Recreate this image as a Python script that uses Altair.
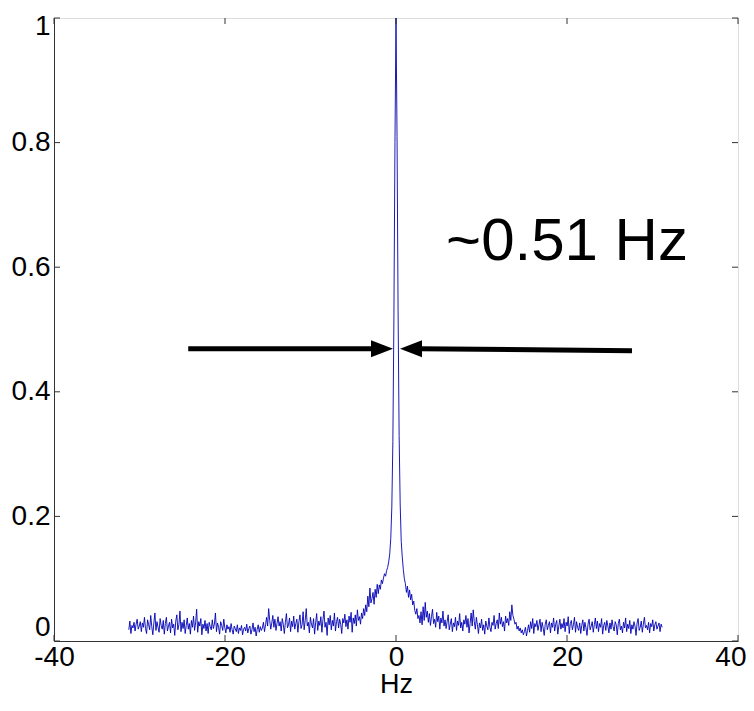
import altair as alt
import pandas as pd

# Spectrum magnitude (normalised), 512 bins; bin 256 is 0 Hz
spectrum = [
    0.018, 0.032, 0.012, 0.025, 0.021, 0.030, 0.016, 0.027, 0.035, 0.019, 0.024, 0.031, 0.015, 0.029, 0.022, 0.038,
    0.020, 0.012, 0.034, 0.026, 0.018, 0.041, 0.023, 0.010, 0.029, 0.045, 0.017, 0.031, 0.022, 0.014, 0.036, 0.025,
    0.019, 0.033, 0.011, 0.028, 0.038, 0.016, 0.024, 0.030, 0.013, 0.035, 0.021, 0.027, 0.009, 0.032, 0.042, 0.018,
    0.026, 0.048, 0.015, 0.030, 0.020, 0.034, 0.012, 0.025, 0.037, 0.019, 0.028, 0.011, 0.033, 0.022, 0.040, 0.017,
    0.029, 0.051, 0.014, 0.031, 0.024, 0.036, 0.010, 0.027, 0.020, 0.033, 0.016, 0.028, 0.012, 0.030, 0.023, 0.018,
    0.034, 0.020, 0.027, 0.045, 0.015, 0.029, 0.022, 0.011, 0.031, 0.025, 0.017, 0.035, 0.021, 0.013, 0.026, 0.019,
    0.023, 0.014, 0.028, 0.018, 0.011, 0.024, 0.020, 0.015, 0.026, 0.012, 0.021, 0.017, 0.025, 0.010, 0.019, 0.022,
    0.016, 0.027, 0.013, 0.020, 0.024, 0.011, 0.018, 0.029, 0.015, 0.022, 0.008, 0.019, 0.026, 0.014, 0.023, 0.017,
    0.021, 0.030, 0.015, 0.026, 0.038, 0.024, 0.052, 0.033, 0.019, 0.029, 0.041, 0.022, 0.035, 0.017, 0.028, 0.039,
    0.024, 0.031, 0.016, 0.036, 0.027, 0.012, 0.030, 0.044, 0.021, 0.026, 0.037, 0.015, 0.032, 0.023, 0.040, 0.019,
    0.028, 0.035, 0.014, 0.031, 0.042, 0.020, 0.026, 0.047, 0.018, 0.033, 0.052, 0.024, 0.030, 0.013, 0.038, 0.027,
    0.021, 0.036, 0.011, 0.029, 0.044, 0.017, 0.032, 0.025, 0.039, 0.014, 0.034, 0.048, 0.022, 0.030, 0.009, 0.037,
    0.026, 0.041, 0.018, 0.033, 0.024, 0.045, 0.016, 0.031, 0.038, 0.021, 0.035, 0.027, 0.012, 0.036, 0.029, 0.043,
    0.023, 0.034, 0.019, 0.040, 0.030, 0.046, 0.014, 0.037, 0.028, 0.042, 0.024, 0.050, 0.033, 0.039, 0.027, 0.045,
    0.036, 0.052, 0.041, 0.058, 0.047, 0.072, 0.055, 0.085, 0.061, 0.068, 0.078, 0.059, 0.083, 0.070, 0.091, 0.076,
    0.090, 0.083, 0.098, 0.092, 0.101, 0.108, 0.104, 0.113, 0.118, 0.127, 0.140, 0.165, 0.215, 0.320, 0.520, 0.800,
    1.000, 0.810, 0.530, 0.330, 0.220, 0.160, 0.135, 0.115, 0.100, 0.092, 0.078, 0.088, 0.070, 0.082, 0.066, 0.075,
    0.058, 0.064, 0.049, 0.043, 0.052, 0.036, 0.041, 0.029, 0.047, 0.026, 0.055, 0.033, 0.062, 0.038, 0.048, 0.030,
    0.044, 0.025, 0.039, 0.051, 0.028, 0.035, 0.022, 0.046, 0.031, 0.040, 0.019, 0.037, 0.029, 0.048, 0.024, 0.034,
    0.020, 0.031, 0.042, 0.018, 0.027, 0.036, 0.015, 0.029, 0.023, 0.038, 0.017, 0.032, 0.025, 0.044, 0.021, 0.030,
    0.016, 0.034, 0.027, 0.041, 0.022, 0.036, 0.013, 0.028, 0.045, 0.024, 0.050, 0.031, 0.019, 0.038, 0.026, 0.012,
    0.029, 0.021, 0.035, 0.017, 0.026, 0.011, 0.032, 0.024, 0.018, 0.037, 0.022, 0.015, 0.030, 0.025, 0.041, 0.019,
    0.028, 0.034, 0.020, 0.045, 0.027, 0.038, 0.023, 0.031, 0.016, 0.040, 0.029, 0.036, 0.025, 0.047, 0.033, 0.058,
    0.041, 0.035, 0.027, 0.030, 0.019, 0.024, 0.016, 0.021, 0.013, 0.018, 0.010, 0.015, 0.022, 0.008, 0.017, 0.026,
    0.014, 0.031, 0.020, 0.036, 0.012, 0.028, 0.023, 0.033, 0.017, 0.026, 0.035, 0.015, 0.030, 0.021, 0.009, 0.027,
    0.034, 0.018, 0.025, 0.031, 0.013, 0.029, 0.022, 0.037, 0.016, 0.027, 0.033, 0.011, 0.024, 0.035, 0.019, 0.028,
    0.021, 0.036, 0.015, 0.030, 0.024, 0.039, 0.012, 0.028, 0.033, 0.018, 0.026, 0.038, 0.014, 0.031, 0.022, 0.017,
    0.029, 0.012, 0.025, 0.034, 0.016, 0.030, 0.021, 0.009, 0.027, 0.035, 0.018, 0.024, 0.031, 0.014, 0.026, 0.037,
    0.020, 0.032, 0.015, 0.028, 0.022, 0.036, 0.011, 0.025, 0.030, 0.017, 0.033, 0.024, 0.013, 0.029, 0.019, 0.034,
    0.023, 0.016, 0.031, 0.026, 0.010, 0.028, 0.035, 0.018, 0.024, 0.013, 0.030, 0.021, 0.037, 0.015, 0.027, 0.020,
    0.033, 0.012, 0.026, 0.019, 0.031, 0.024, 0.009, 0.029, 0.036, 0.017, 0.022, 0.032, 0.014, 0.027, 0.038, 0.021,
    0.025, 0.018, 0.030, 0.013, 0.028, 0.023, 0.034, 0.016, 0.026, 0.031, 0.019, 0.024, 0.029, 0.015, 0.027, 0.022,
]
sample_rate = 62.5  # Hz, frequency bin spacing = sample_rate / 512
n_bins = 512

x_ticks = [-40, -20, 0, 20, 40]
y_ticks = [0, 0.2, 0.4, 0.6, 0.8, 1]
x_domain = [-40, 40]
y_domain = [0, 1]

# annotation: arrows at half maximum
arrow_y = [0.469, 0.466]
left_arrow = [-24.3, -2.6, -0.35]   # shaft start, shaft end, tip
right_arrow = [27.6, 2.7, 0.47]     # shaft end, shaft start, tip
label_text = "~0.51 Hz"
label_pos = [20.0, 0.64]

peak = spectrum.index(max(spectrum))
spec_df = pd.DataFrame({
    "x": [(i - peak) * sample_rate / n_bins for i in range(len(spectrum))],
    "y": spectrum,
})

W, H = 684, 623
FONT = "Liberation Sans, Arial, sans-serif"
xs = alt.Scale(domain=x_domain, nice=False, zero=False)
ys = alt.Scale(domain=y_domain, nice=False, zero=False)

X_AXIS = alt.Axis(values=x_ticks, labelExpr="'' + datum.value", ticks=False, grid=False,
                  labelFont=FONT, labelFontSize=28, labelColor="black",
                  labelPadding=2, labelFlush=False,
                  labelAlign={"condition": {"test": "datum.value == 40", "value": "right"},
                              "value": "center"},
                  labelOffset={"condition": {"test": "datum.value == 40", "value": 8}, "value": 0},
                  titleFont=FONT, titleFontSize=27, titleFontWeight="normal", titleColor="black",
                  titlePadding=0, domainColor="#333", domainWidth=1)
Y_AXIS = alt.Axis(values=y_ticks, format=".1~f", ticks=False, grid=False,
                  labelFont=FONT, labelFontSize=28, labelColor="black",
                  labelPadding=4, labelFlush=False,
                  labelBaseline={"condition": {"test": "datum.value == 0", "value": "bottom"},
                                 "value": "middle"},
                  labelOffset={"condition": {"test": "datum.value == 1", "value": 8}, "value": 0},
                  domainColor="#333", domainWidth=1)


def X():
    return alt.X("x:Q", scale=xs, title="Hz", axis=X_AXIS)


def Y():
    return alt.Y("y:Q", scale=ys, title=None, axis=Y_AXIS)


line = alt.Chart(spec_df).mark_line(color="#0000b4", strokeWidth=0.9).encode(x=X(), y=Y())

xt = pd.DataFrame({"x": x_ticks})
yt = pd.DataFrame({"y": y_ticks})
tick_bottom = alt.Chart(xt).mark_rule(color="#333", strokeWidth=1).encode(
    x=X(), y=alt.value(H), y2=alt.value(H - 6))
tick_top = alt.Chart(xt).mark_rule(color="#333", strokeWidth=1).encode(
    x=X(), y=alt.value(0), y2=alt.value(6))
tick_left = alt.Chart(yt).mark_rule(color="#333", strokeWidth=1).encode(
    y=Y(), x=alt.value(0), x2=alt.value(6))
tick_right = alt.Chart(yt).mark_rule(color="#333", strokeWidth=1).encode(
    y=Y(), x=alt.value(W), x2=alt.value(W - 6))

shaft_df = pd.DataFrame({
    "x": [left_arrow[0], right_arrow[1]],
    "x2": [left_arrow[1], right_arrow[0]],
    "y": [arrow_y[0], arrow_y[0]],
    "y2": [arrow_y[0], arrow_y[1]],
})
shafts = alt.Chart(shaft_df).mark_rule(color="black", strokeWidth=5).encode(
    x=X(), x2="x2:Q", y=Y(), y2="y2:Q")

head_l = alt.Chart(pd.DataFrame({"x": [left_arrow[2]], "y": [arrow_y[0]]})).mark_point(
    shape="M0,0L-2,-0.77L-2,0.77Z", size=484, filled=True, color="black", opacity=1, strokeWidth=0
).encode(x=X(), y=Y())
head_r = alt.Chart(pd.DataFrame({"x": [right_arrow[2]], "y": [arrow_y[0]]})).mark_point(
    shape="M0,0L2,-0.77L2,0.77Z", size=484, filled=True, color="black", opacity=1, strokeWidth=0
).encode(x=X(), y=Y())

label = alt.Chart(pd.DataFrame({"x": [label_pos[0]], "y": [label_pos[1]], "t": [label_text]})).mark_text(
    font=FONT, fontSize=60, color="black", align="center", baseline="middle"
).encode(x=X(), y=Y(), text="t:N")

chart = alt.layer(line, tick_bottom, tick_top, tick_left, tick_right, shafts, head_l, head_r, label).properties(
    width=W, height=H,
    autosize=alt.AutoSizeParams(type="none"),
    padding={"left": 46, "top": 10, "right": 8, "bottom": 57},
).configure_view(stroke="#333", strokeWidth=1).configure(background="white")

chart.save("out.html", embed_options={"renderer": "svg", "actions": False})
